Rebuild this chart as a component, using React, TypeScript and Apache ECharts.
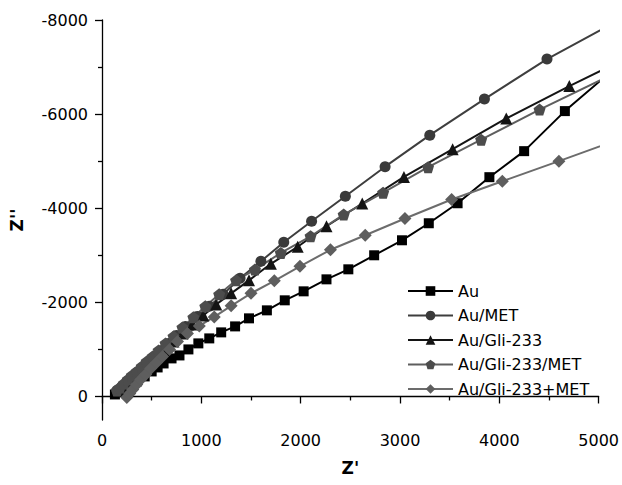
import React, { useEffect, useRef } from "react";
import * as echarts from "echarts";

const auRe = [130, 200, 270, 350, 430, 500, 560, 620, 700, 780, 870, 970, 1080, 1200, 1340, 1480, 1660, 1840, 2030, 2260, 2480, 2740, 3020, 3290, 3580, 3900, 4250, 4660, 5100];
const auIm = [-43, -128, -213, -319, -426, -532, -617, -702, -809, -872, -1000, -1128, -1234, -1362, -1489, -1660, -1830, -2043, -2234, -2489, -2702, -3000, -3319, -3681, -4106, -4660, -5213, -6064, -6860];

const auMetRe = [150, 200, 250, 300, 350, 410, 470, 530, 600, 670, 750, 840, 960, 1080, 1220, 1390, 1600, 1830, 2110, 2450, 2850, 3300, 3850, 4480, 5200];
const auMetIm = [-128, -213, -319, -404, -511, -617, -723, -851, -979, -1128, -1298, -1489, -1702, -1915, -2170, -2511, -2872, -3277, -3723, -4255, -4883, -5553, -6319, -7170, -7990];

const gliRe = [180, 220, 260, 300, 350, 400, 450, 510, 570, 640, 720, 810, 910, 1020, 1150, 1300, 1480, 1700, 1970, 2260, 2620, 3040, 3530, 4070, 4705, 5400];
const gliIm = [-128, -213, -298, -383, -468, -574, -660, -766, -894, -1021, -1170, -1340, -1532, -1723, -1957, -2191, -2468, -2819, -3181, -3617, -4100, -4666, -5255, -5909, -6596, -7313];

const gliMetRe = [150, 180, 220, 260, 300, 350, 400, 450, 510, 570, 640, 720, 810, 920, 1040, 1180, 1350, 1540, 1800, 2100, 2433, 2830, 3283, 3817, 4405, 5600];
const gliMetIm = [-128, -191, -277, -362, -447, -532, -638, -745, -851, -979, -1128, -1277, -1468, -1681, -1915, -2170, -2468, -2696, -3049, -3404, -3866, -4330, -4872, -5457, -6096, -7313];

const gliPlusRe = [250, 280, 310, 350, 390, 440, 490, 550, 610, 680, 760, 860, 980, 1130, 1300, 1500, 1735, 1993, 2300, 2650, 3050, 3520, 4030, 4600, 5400];
const gliPlusIm = [21, -64, -149, -255, -362, -468, -596, -723, -851, -1000, -1170, -1340, -1500, -1691, -1926, -2191, -2457, -2766, -3117, -3426, -3781, -4185, -4574, -5000, -5613];

const seriesNames = ["Au", "Au/MET", "Au/Gli-233", "Au/Gli-233/MET", "Au/Gli-233+MET"];

const xMajor = [0, 1000, 2000, 3000, 4000, 5000];
const xMinor = [500, 1500, 2500, 3500, 4500];
const yMajor = [-8000, -6000, -4000, -2000, 0];
const yMinor = [-7000, -5000, -3000, -1000];

const FONT = '"DejaVu Sans", Arial, sans-serif';
const PENTAGON = "path://M0,-1 L0.951,-0.309 L0.588,0.809 L-0.588,0.809 L-0.951,-0.309 Z";

const zip = (a: number[], b: number[]) => a.map((v, i) => [v, b[i]]);
const plain = (v: number) => String(v);

export default function App() {
  const ref = useRef<HTMLDivElement>(null);
  useEffect(() => {
    if (!ref.current) return;
    const chart = echarts.init(ref.current, null, { renderer: "svg" });
    const styles = [
      { data: zip(auRe, auIm), symbol: "rect", size: 10, color: "#000000", line: "#000000" },
      { data: zip(auMetRe, auMetIm), symbol: "circle", size: 11, color: "#3a3a3a", line: "#3e3e3e" },
      { data: zip(gliRe, gliIm), symbol: "triangle", size: 12, color: "#141414", line: "#141414" },
      { data: zip(gliMetRe, gliMetIm), symbol: PENTAGON, size: 12, color: "#4c4c4c", line: "#5e5e5e" },
      { data: zip(gliPlusRe, gliPlusIm), symbol: "diamond", size: 13, color: "#5e5e5e", line: "#6c6c6c" },
    ];
    const axisCommon = {
      axisLine: { show: true, lineStyle: { color: "#000", width: 1.3 } },
      splitLine: { show: false },
    };
    chart.setOption({
      animation: false,
      backgroundColor: "#ffffff",
      textStyle: { fontFamily: FONT },
      grid: { left: 100, right: 22, top: 20, bottom: 65, containLabel: false },
      legend: {
        orient: "vertical",
        left: 407,
        top: 283,
        padding: 0,
        itemWidth: 45,
        itemHeight: 12,
        itemGap: 8.5,
        data: seriesNames,
        textStyle: { fontFamily: FONT, fontSize: 16, color: "#000", lineHeight: 15 },
      },
      xAxis: [
        {
          type: "value",
          min: 0,
          max: 5000,
          position: "bottom",
          name: "Z'",
          nameLocation: "middle",
          nameGap: 39,
          nameTextStyle: { fontFamily: FONT, fontSize: 17, fontWeight: "bold", color: "#000" },
          ...axisCommon,
          axisTick: { show: true, length: 7, customValues: xMajor, lineStyle: { color: "#000", width: 1.3 } },
          axisLabel: { show: true, customValues: xMajor, margin: 12, fontSize: 16, color: "#000", fontFamily: FONT, formatter: plain },
        },
        {
          type: "value",
          min: 0,
          max: 5000,
          position: "bottom",
          offset: 0,
          axisLine: { show: false },
          splitLine: { show: false },
          axisTick: { show: true, length: 4, customValues: xMinor, lineStyle: { color: "#000", width: 1.3 } },
          axisLabel: { show: false },
        },
      ],
      yAxis: [
        {
          type: "value",
          min: -8000,
          max: 500,
          inverse: true,
          position: "left",
          name: "Z''",
          nameLocation: "middle",
          nameGap: 77,
          nameRotate: 90,
          nameTextStyle: { fontFamily: FONT, fontSize: 17, fontWeight: "bold", color: "#000" },
          ...axisCommon,
          axisTick: { show: true, length: 7, customValues: yMajor, lineStyle: { color: "#000", width: 1.3 } },
          axisLabel: { show: true, customValues: yMajor, margin: 14, fontSize: 16, color: "#000", fontFamily: FONT, formatter: plain },
        },
        {
          type: "value",
          min: -8000,
          max: 500,
          inverse: true,
          position: "left",
          offset: 0,
          axisLine: { show: false },
          splitLine: { show: false },
          axisTick: { show: true, length: 4, customValues: yMinor, lineStyle: { color: "#000", width: 1.3 } },
          axisLabel: { show: false },
        },
      ],
      series: styles.map((s, i) => ({
        name: seriesNames[i],
        type: "line",
        xAxisIndex: 0,
        yAxisIndex: 0,
        data: s.data,
        symbol: s.symbol,
        symbolSize: s.size,
        showAllSymbol: true,
        clip: true,
        itemStyle: { color: s.color },
        lineStyle: { color: s.line, width: 2 },
      })),
    });
    return () => chart.dispose();
  }, []);
  return (
    <div
      ref={ref}
      style={{ position: "fixed", left: 0, top: 0, width: 622, height: 485 }}
    />
  );
}
